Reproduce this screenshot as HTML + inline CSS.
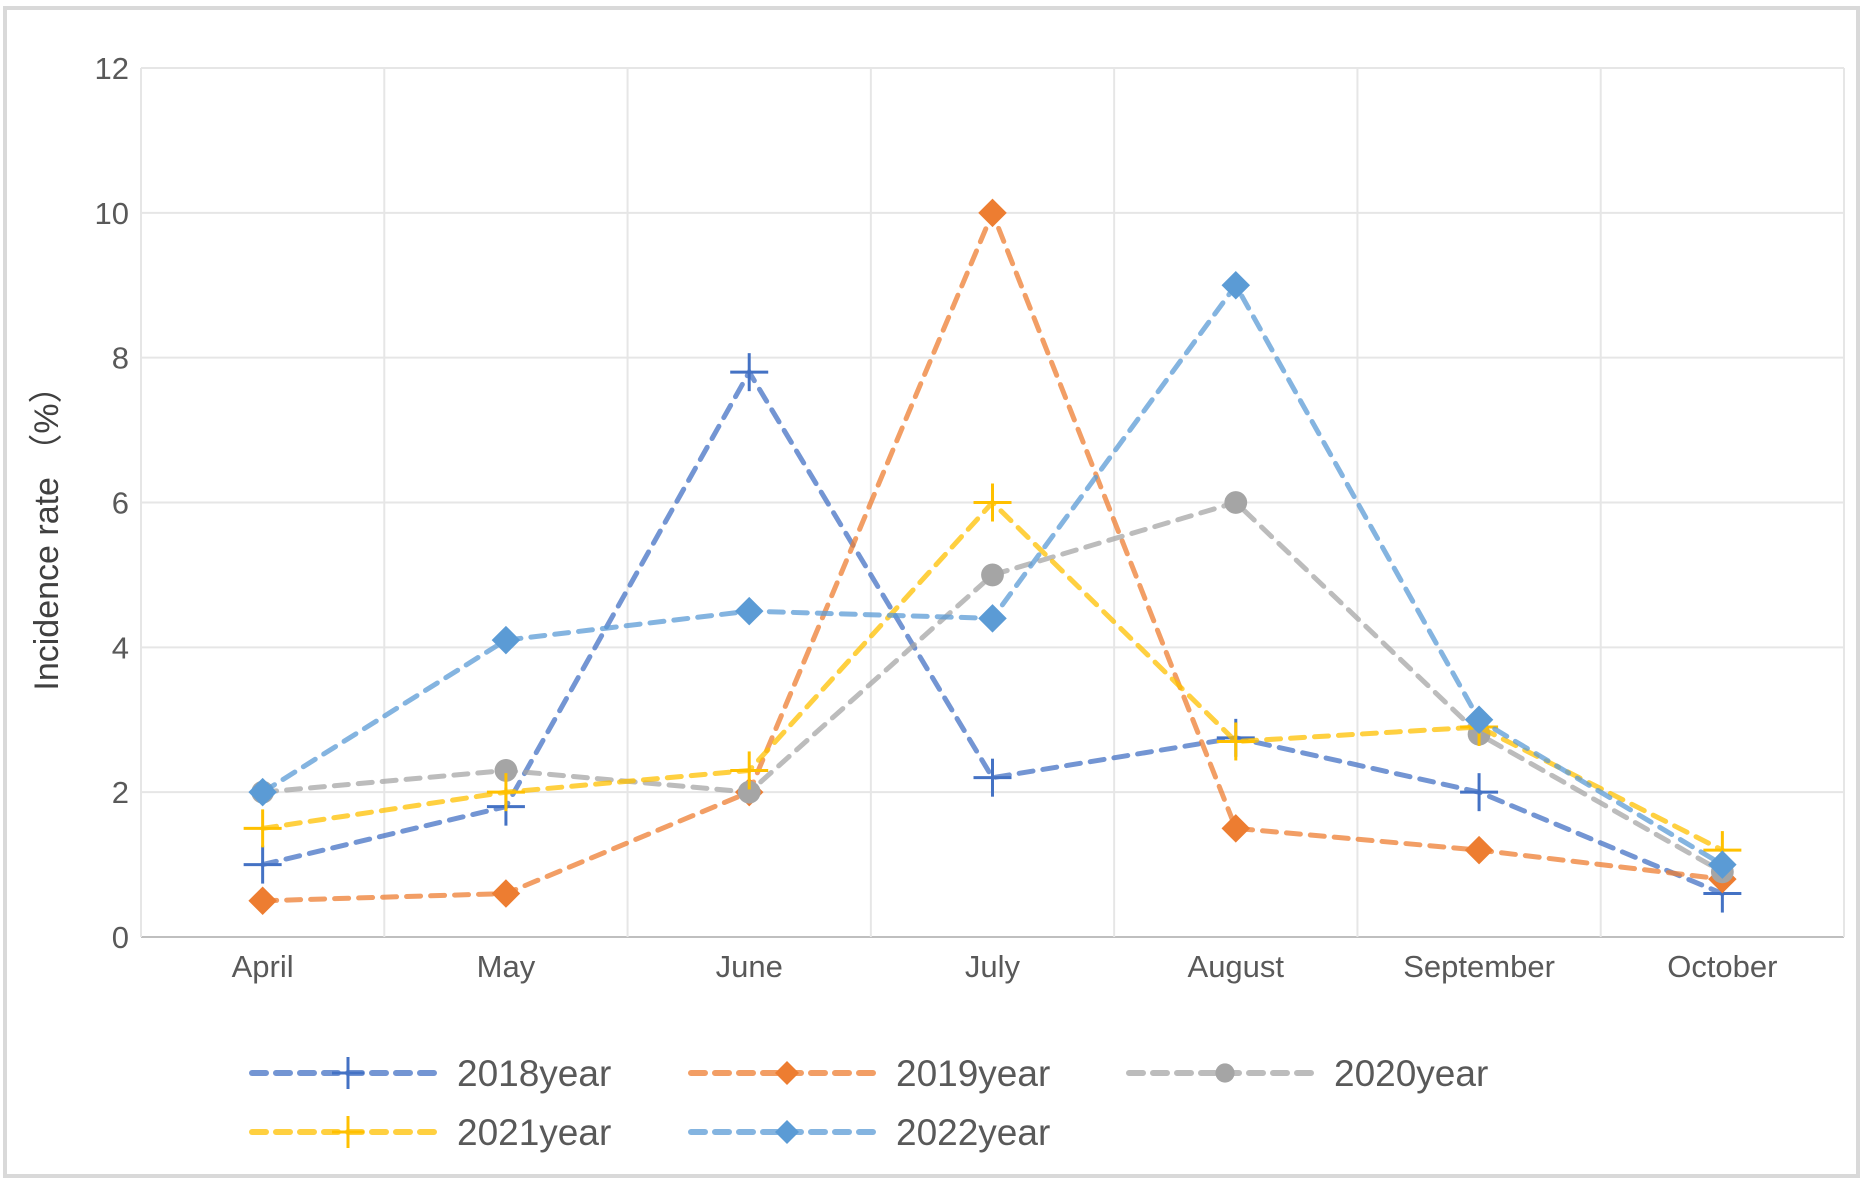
<!DOCTYPE html>
<html><head><meta charset="utf-8"><style>
html,body{margin:0;padding:0;background:#fff;}
svg{display:block;font-family:"Liberation Sans",sans-serif;}
</style></head><body>
<svg width="1868" height="1192" viewBox="0 0 1868 1192">
<rect x="5" y="8" width="1853" height="1168" fill="#fff" stroke="#d9d9d9" stroke-width="4"/>
<g id="grid"></g><g id="axes"></g><g id="series"></g><g id="legend"></g>
<text transform="translate(58,530) rotate(-90)" text-anchor="middle" font-size="34" fill="#404040">Incidence rate （%）</text>
</svg>
<script>
const categories=["April","May","June","July","August","September","October"];
const yTicks=[0,2,4,6,8,10,12];
const s2018=[1,1.8,7.8,2.2,2.75,2.0,0.6];
const s2019=[0.5,0.6,2.0,10,1.5,1.2,0.8];
const s2020=[2.0,2.3,2.0,5.0,6.0,2.8,0.9];
const s2021=[1.5,2.0,2.3,6.0,2.7,2.9,1.2];
const s2022=[2.0,4.1,4.5,4.4,9.0,3.0,1.0];
const seriesNames=["2018year","2019year","2020year","2021year","2022year"];
const NS="http://www.w3.org/2000/svg";
const L=141,R=1844,T=68,B=937,band=(R-L)/categories.length;
const x=i=>L+band*(i+0.5);
const y=v=>B-(v/12)*(B-T);
function mk(t,a,p){const e=document.createElementNS(NS,t);for(const k in a)e.setAttribute(k,a[k]);p.appendChild(e);return e;}
const grid=document.getElementById('grid'),axes=document.getElementById('axes'),ser=document.getElementById('series'),leg=document.getElementById('legend');
yTicks.forEach(v=>{
 const g=mk('line',{x1:L,x2:R,y1:y(v),y2:y(v),stroke:v===0?'#bfbfbf':'#e6e6e6','stroke-width':2},grid);
 
 
 const t=mk('text',{x:129,y:y(v)+11,'text-anchor':'end','font-size':31,fill:'#595959'},axes);
 t.textContent=v;
 
 
});
for(let i=0;i<=categories.length;i++){
 const g=mk('line',{x1:L+band*i,x2:L+band*i,y1:T,y2:B,stroke:'#e6e6e6','stroke-width':2},grid);
 
 
}
categories.forEach((c,i)=>{
 const t=mk('text',{x:x(i),y:977,'text-anchor':'middle','font-size':31,fill:'#595959'},axes);
 t.textContent=c;
 
 
});
const data=[s2018,s2019,s2020,s2021,s2022];
const lineCol=['#4472C4','#ED7D31','#A5A5A5','#FFC000','#5B9BD5'];
const mkType=['plus','diamond','circle','plus','diamond'];
function marker(type,cx,cy,col,p,sz){
 if(type==='plus'){
  mk('line',{x1:cx-sz,x2:cx+sz,y1:cy,y2:cy,stroke:col,'stroke-width':3},p);
  mk('line',{x1:cx,x2:cx,y1:cy-sz,y2:cy+sz,stroke:col,'stroke-width':3},p);
 }else if(type==='diamond'){
  const d=sz*0.75;
  mk('polygon',{points:`${cx},${cy-d} ${cx+d},${cy} ${cx},${cy+d} ${cx-d},${cy}`,fill:col},p);
 }else{
  mk('circle',{cx:cx,cy:cy,r:sz*0.6,fill:col},p);
 }
}
data.forEach((arr,si)=>{
 const g=mk('g',{},ser);
 
 
 const pl=mk('polyline',{points:arr.map((v,i)=>x(i)+','+y(v)).join(' '),fill:'none',stroke:lineCol[si],'stroke-opacity':0.75,'stroke-width':5,'stroke-dasharray':'14 10','stroke-linecap':'round'},g);
 
 
 arr.forEach((v,i)=>marker(mkType[si],x(i),y(v),lineCol[si],g,19));
});
const legPos=[[252,1073],[691,1073],[1129,1073],[252,1132],[691,1132]];
seriesNames.forEach((n,si)=>{
 const [lx,ly]=legPos[si];
 const g=mk('g',{},leg);
 
 
 mk('line',{x1:lx,x2:lx+192,y1:ly,y2:ly,stroke:lineCol[si],'stroke-opacity':0.75,'stroke-width':6,'stroke-dasharray':'14 10','stroke-linecap':'round'},g);
 marker(mkType[si],lx+96,ly,lineCol[si],g,16);
 const t=mk('text',{x:lx+205,y:ly+13,'font-size':37,fill:'#595959'},g);
 t.textContent=n;
});
</script>
</body></html>
